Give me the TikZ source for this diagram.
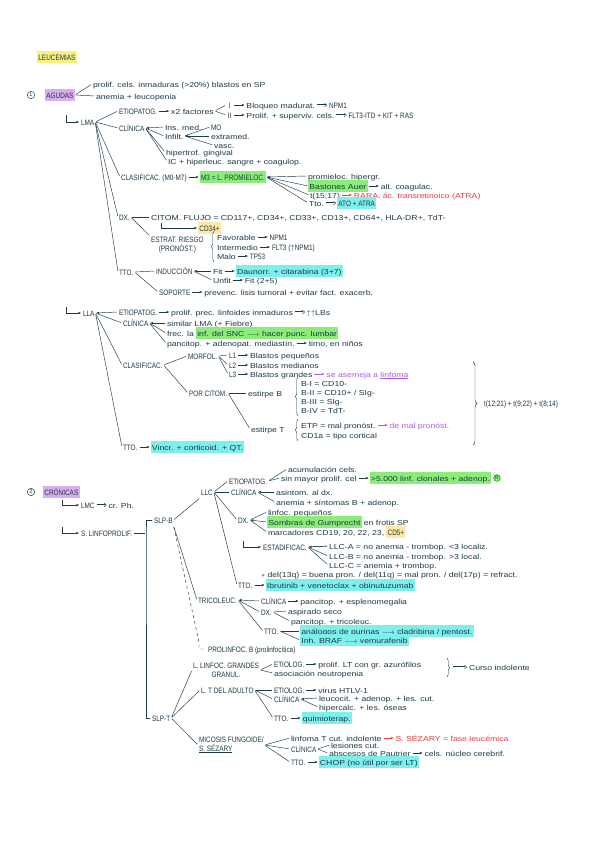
\documentclass[tikz,border=0pt]{standalone}
\usepackage{fontspec}
\setmainfont{Liberation Sans}
\newfontfamily\handfont[FakeStretch=1.2]{Liberation Sans}
\newfontfamily\capfont[FakeStretch=0.82]{Liberation Sans}
\usepackage{tikz}
\usetikzlibrary{arrows.meta, positioning, decorations.pathreplacing}
\definecolor{ink}{RGB}{28,58,72}
\definecolor{hlyellow}{RGB}{250,240,125}
\definecolor{hlpurple}{RGB}{218,172,240}
\definecolor{hlgreen}{RGB}{140,236,120}
\definecolor{hlcyan}{RGB}{125,240,236}
\definecolor{hlorange}{RGB}{255,232,165}
\definecolor{redink}{RGB}{238,58,58}
\definecolor{lilac}{RGB}{170,90,240}
\tikzstyle{basefont}=[font=\handfont\fontsize{7.2}{8.2}\selectfont]
\tikzstyle{capsfont}=[font=\capfont\fontsize{7.8}{8.6}\selectfont]
\tikzstyle{hand}=[basefont, text=ink, anchor=west, inner sep=0.8pt]
\tikzstyle{txt}=[hand, text height=1.5ex, text depth=.35ex]
\tikzstyle{hdr}=[txt, capsfont]
\tikzstyle{hlY}=[txt, fill=hlyellow, inner sep=1.2pt]
\tikzstyle{hlP}=[txt, fill=hlpurple, inner sep=1.2pt]
\tikzstyle{hlG}=[txt, fill=hlgreen, inner sep=1.2pt]
\tikzstyle{hlC}=[txt, fill=hlcyan, inner sep=1.2pt]
\tikzstyle{hlO}=[txt, fill=hlorange, inner sep=1.2pt]
\tikzstyle{redtxt}=[txt, text=redink]
\tikzstyle{liltxt}=[txt, text=lilac]
\tikzstyle{circnum}=[circle, draw=ink, text=ink, line width=0.45pt, inner sep=0.9pt, font=\fontsize{5.5}{5.5}\selectfont]
\tikzstyle{stamp}=[circle, fill=hlgreen, draw=green!45!black, text=green!35!black, inner sep=0.6pt, font=\fontsize{5}{5}\selectfont]
\tikzstyle{link}=[draw=ink, line width=0.45pt, shorten <=1pt, shorten >=1pt]
\tikzstyle{arrow}=[link, -{Stealth[length=3pt, width=2.4pt]}]
\tikzstyle{darrow}=[link, double, double distance=0.8pt, -{Implies}]
\tikzstyle{redarrow}=[arrow, draw=redink]
\tikzstyle{lilarrow}=[arrow, draw=lilac]
\tikzstyle{curly}=[draw=ink, line width=0.45pt, decorate, decoration={brace, amplitude=2.5pt}]
% next item on the same line, joined by an arrow
\newcommand*{\nxt}[5][arrow]{%
	\node[#4, right=12pt of #2] (#3) {#5};
	\draw[#1] (#2) -- (#3);
}
\begin{document}
\begin{tikzpicture}[x=0.035cm, y=-0.035cm]
	\useasboundingbox[fill=white] (0,0) rectangle (600,848);

	\node[hlY, capsfont] (leuc) at (37,57) {LEUCEMIAS};

	% 1. Agudas
	\node[circnum] (n1) at (31,95) {1};
	\node[hlP, capsfont] (agudas) at (45,95) {AGUDAS};
	\node[txt] (ag-prolif) at (92,84) {prolif. cels. inmaduras (>20\%) blastos en SP};
	\node[txt] (ag-anemia) at (95,96) {anemia + leucopenia};
	\foreach \c in {ag-prolif, ag-anemia}
		\draw[link] (agudas.east) -- (\c.west);

	% LMA
	\coordinate (lma-hook) at (66,114);
	\node[hdr] (lma) at (80,122) {LMA};
	\draw[arrow] (lma-hook) |- (lma);
	\node[hdr] (lma-etio) at (118,111) {ETIOPATOG.};
	\node[hdr] (lma-clin) at (118,128) {CLÍNICA};
	\node[hdr] (lma-clasif) at (120,177) {CLASIFICAC. (M0-M7)};
	\node[hdr] (lma-dx) at (118,217) {DX.};
	\node[hdr] (lma-tto) at (118,272) {TTO.};
	\foreach \c in {lma-etio, lma-clin, lma-clasif, lma-dx, lma-tto}
		\draw[link] (lma.east) -- (\c.west);

	\nxt{lma-etio}{lma-fact}{txt}{x2 factores}
	\node[hdr, minimum width=7pt] (fact1) at (226,105) {I};
	\node[hdr, minimum width=7pt] (fact2) at (226,115) {II};
	\foreach \c in {fact1, fact2}
		\draw[link] (lma-fact.east) -- (\c.west);
	\nxt{fact1}{fact1-a}{txt}{Bloqueo madurat.}
	\nxt[darrow]{fact1-a}{fact1-b}{hdr}{NPM1}
	\nxt{fact2}{fact2-a}{txt}{Prolif. + superviv. cels.}
	\nxt[darrow]{fact2-a}{fact2-b}{hdr}{FLT3-ITD + KIT + RAS}

	\node[txt] (clin-ins) at (164,127) {Ins. med.};
	\node[txt] (clin-infilt) at (164,136) {Infilt.};
	\node[txt] (clin-gingiv) at (165,152) {hipertrof. gingival};
	\node[txt] (clin-ic) at (167,161) {IC + hiperleuc. sangre + coagulop.};
	\draw[arrow] (clin-ins.west) -- (lma-clin.east);
	\foreach \c in {clin-infilt, clin-gingiv, clin-ic}
		\draw[link] (\c.west) -- (lma-clin.east);
	\node[hdr] (infilt-mo) at (210,127) {MO};
	\node[txt] (infilt-extra) at (210,136) {extramed.};
	\node[txt] (infilt-vasc) at (213,145) {vasc.};
	\draw[arrow] (infilt-extra.west) -- (clin-infilt.east);
	\foreach \c in {infilt-mo, infilt-vasc}
		\draw[link] (\c.west) -- (clin-infilt.east);

	\nxt{lma-clasif}{m3}{hlG, capsfont}{M3 = L. PROMIELOC.}
	\node[txt] (m3-hiper) at (307,176) {promieloc. hipergr.};
	\node[hlG] (m3-auer) at (308,186) {Bastones Auer};
	\node[txt] (m3-trans) at (309,195) {t(15;17)};
	\node[txt] (m3-tto) at (308,203) {Tto.};
	\draw[arrow] (m3-hiper.west) -- (m3.east);
	\foreach \c in {m3-auer, m3-trans, m3-tto}
		\draw[link] (\c.west) -- (m3.east);
	\nxt{m3-auer}{m3-coag}{txt}{alt. coagulac.}
	\nxt[redarrow]{m3-trans}{m3-atra}{redtxt}{RARA. ác. transretinoico (ATRA)}
	\nxt[darrow]{m3-tto}{m3-ato}{hlC, capsfont}{ATO + ATRA}

	\node[txt] (dx-citom) at (150,217) {CITOM. FLUJO = CD117+, CD34+, CD33+, CD13+, CD64+, HLA-DR+, TdT-};
	\coordinate (cd34-hook) at (161,222);
	\node[hlO, capsfont] (cd34) at (198,228) {CD34+};
	\draw[arrow] (cd34-hook) |- (cd34);
	\node[hand, capsfont, align=center] (dx-riesgo) at (150,245) {ESTRAT. RIESGO\\(PRONÓST.)};
	\draw[link] (lma-dx.east) -- (dx-citom.west);
	\draw[link] (lma-dx.east) -- (dx-riesgo.north west);
	\node[txt] (r-fav) at (216,237) {Favorable};
	\node[txt] (r-int) at (216,247) {Intermedio};
	\node[txt] (r-malo) at (216,256) {Malo};
	\draw[curly] ([xshift=-2pt]r-malo.south west) -- ([xshift=-2pt]r-fav.north west);
	\nxt{r-fav}{r-fav-g}{hdr}{NPM1}
	\nxt{r-int}{r-int-g}{hdr}{FLT3 ($\uparrow$NPM1)}
	\nxt{r-malo}{r-malo-g}{hdr}{TP53}

	\node[hdr] (induc) at (155,271) {INDUCCIÓN};
	\node[hdr] (soporte) at (158,292) {SOPORTE};
	\foreach \c in {induc, soporte}
		\draw[link] (lma-tto.east) -- (\c.west);
	\node[txt] (ind-fit) at (212,271) {Fit};
	\node[txt] (ind-unfit) at (212,280) {Unfit};
	\draw[arrow] (ind-fit.west) -- (induc.east);
	\draw[link] (ind-unfit.west) -- (induc.east);
	\nxt{ind-fit}{ind-fit-t}{hlC}{Daunorr. + citarabina (3+7)}
	\nxt{ind-unfit}{ind-unfit-t}{txt}{Fit (2+5)}
	\nxt{soporte}{soporte-t}{txt}{prevenc. lisis tumoral + evitar fact. exacerb.}

	% LLA
	\coordinate (lla-hook) at (66,306);
	\node[hdr] (lla) at (82,313) {LLA};
	\draw[arrow] (lla-hook) |- (lla);
	\node[hdr] (lla-etio) at (118,312) {ETIOPATOG.};
	\node[hdr] (lla-clin) at (122,323) {CLÍNICA};
	\node[hdr] (lla-clasif) at (122,365) {CLASIFICAC.};
	\node[hdr] (lla-tto) at (122,447) {TTO.};
	\draw[arrow] (lla-etio.west) -- (lla.east);
	\foreach \c in {lla-clin, lla-clasif, lla-tto}
		\draw[link] (\c.west) -- (lla.east);

	\nxt{lla-etio}{lla-prolif}{txt}{prolif. prec. linfoides inmaduros}
	\nxt[darrow]{lla-prolif}{lla-lbs}{txt}{$\uparrow\uparrow$LBs}

	\node[txt] (lla-sim) at (166,323) {similar LMA (+ Fiebre)};
	\node[txt] (lla-frec) at (166,333) {frec. la};
	\node[hlG, right=1pt of lla-frec] (lla-snc) {inf. del SNC $\longrightarrow$ hacer punc. lumbar};
	\node[txt] (lla-pancit) at (166,343) {pancitop. + adenopat. mediastín.};
	\nxt{lla-pancit}{lla-timo}{txt}{timo, en niños}
	\draw[arrow] (lla-sim.west) -- (lla-clin.east);
	\foreach \c in {lla-frec, lla-pancit}
		\draw[link] (\c.west) -- (lla-clin.east);

	\node[hdr] (morfol) at (187,356) {MORFOL.};
	\node[hdr] (porcit) at (188,393) {POR CITOM.};
	\foreach \c in {morfol, porcit}
		\draw[link] (lla-clasif.east) -- (\c.west);
	\foreach \l/\y/\t [count=\i] in {L1/355/pequeños, L2/365/medianos, L3/374/grandes}{
		\node[hdr] (l\i) at (228,\y) {\l};
		\draw[link] (l\i.west) -- (morfol.east);
		\nxt{l\i}{l\i-b}{txt}{Blastos \t}
	}
	\nxt[lilarrow]{l3-b}{l3-note}{liltxt}{se asemeja a \underline{linfoma}}

	\node[txt] (estB) at (247,393) {estirpe B};
	\node[txt] (estT) at (250,429) {estirpe T};
	\foreach \c in {estB, estT}
		\draw[link] (porcit.east) -- (\c.west);
	\foreach \t/\y [count=\i] in {{B-I = CD10-}/383, {B-II = CD10+ / SIg-}/392, {B-III = SIg-}/401, {B-IV = TdT-}/410}
		\node[txt] (b\i) at (300,\y) {\t};
	\draw[curly] ([xshift=-2pt]b4.south west) -- ([xshift=-2pt]b1.north west);
	\node[txt] (etp) at (300,425) {ETP = mal pronóst.};
	\node[txt] (cd1a) at (300,435) {CD1a = tipo cortical};
	\draw[curly] ([xshift=-2pt]cd1a.south west) -- ([xshift=-2pt]etp.north west);
	\nxt[lilarrow]{etp}{etp-note}{liltxt}{de mal pronóst.}

	\coordinate (trans-top) at (473,362);
	\coordinate (trans-bot) at (473,445);
	\draw[curly, decoration={brace, amplitude=4pt}] (trans-top) -- (trans-bot);
	\node[hdr] (trans) at (483,403) {t(12;21) + t(9;22) + t(8;14)};

	\nxt{lla-tto}{lla-vincr}{hlC}{Vincr. + corticoid. + QT.}

	% 2. Cronicas
	\node[circnum] (n2) at (31,492) {2};
	\node[hlP, capsfont] (cron) at (43,492) {CRÓNICAS};
	\coordinate (lmc-hook) at (62,499);
	\node[hdr] (lmc) at (80,505) {LMC};
	\draw[arrow] (lmc-hook) |- (lmc);
	\nxt[darrow]{lmc}{lmc-ph}{txt}{cr. Ph.}
	\coordinate (slp-hook) at (62,526);
	\node[hdr] (slp) at (80,533) {S. LINFOPROLIF.};
	\draw[arrow] (slp-hook) |- (slp);
	\node[hdr] (slpb) at (153,520) {SLP-B};
	\node[hdr] (slpt) at (151,718) {SLP-T};
	\coordinate (slp-bar) at (146,533);
	\draw[link] (slp.east) -- (slp-bar);
	\draw[link] (slpb.west) -| (slp-bar) |- (slpt.west);

	% LLC
	\node[hdr] (llc) at (200,492) {LLC};
	\draw[link] (slpb.east) -- (llc.south west);
	\node[hdr] (llc-etio) at (228,481) {ETIOPATOG.};
	\node[hdr] (llc-clin) at (230,492) {CLÍNICA};
	\node[hdr] (llc-dx) at (237,520) {DX.};
	\node[hdr] (llc-tto) at (237,585) {TTO.};
	\foreach \c in {llc-etio, llc-clin, llc-dx, llc-tto}
		\draw[link] (llc.east) -- (\c.west);

	\node[txt] (etio-acum) at (287,469) {acumulación cels.};
	\node[txt] (etio-prolif) at (280,478) {sin mayor prolif. cel};
	\foreach \c in {etio-acum, etio-prolif}
		\draw[link] (\c.west) -- (llc-etio.east);
	\nxt{etio-prolif}{etio-linf}{hlG}{>5.000 linf. clonales + adenop.}
	\node[stamp, right=2pt of etio-linf] (etio-stamp) {R};

	\node[txt] (clin-asint) at (275,492) {asintom. al dx.};
	\node[txt] (clin-anemia) at (275,502) {anemia + síntomas B + adenop.};
	\draw[arrow] (clin-asint.west) -- (llc-clin.east);
	\draw[link] (clin-anemia.west) -- (llc-clin.east);

	\node[txt] (dx-linf) at (267,512) {linfoc. pequeños};
	\node[hlG] (dx-gump) at (267,522) {Sombras de Gumprecht};
	\node[txt, right=1pt of dx-gump] (dx-frotis) {en frotis SP};
	\node[txt] (dx-marc) at (267,532) {marcadores CD19, 20, 22, 23,};
	\node[hlO, capsfont, right=1pt of dx-marc] (dx-cd5) {CD5+};
	\draw[arrow] (dx-gump.west) -- (llc-dx.east);
	\foreach \c in {dx-linf, dx-marc}
		\draw[link] (\c.west) -- (llc-dx.east);

	\coordinate (estad-hook) at (243,540);
	\node[hdr] (estad) at (262,547) {ESTADIFICAC.};
	\draw[arrow] (estad-hook) |- (estad);
	\foreach \t/\y [count=\i] in {{LLC-A = no anemia - trombop. <3 localiz.}/546, {LLC-B = no anemia - trombop. >3 local.}/556, {LLC-C = anemia + trombop.}/565}{
		\node[txt] (rai\i) at (328,\y) {\t};
		\draw[link] (rai\i.west) -- (estad.east);
	}
	\draw[arrow] (rai1.west) -- (estad.east);
	\node[txt] (citogen) at (260,574) {$\ast$ del(13q) = buena pron. / del(11q) = mal pron. / del(17p) = refract.};
	\nxt{llc-tto}{llc-ibru}{hlC}{Ibrutinib + venetoclax + obinutuzumab}

	% Tricoleucemia y prolinfocitica
	\node[hdr] (tric) at (197,600) {TRICOLEUC.};
	\node[hdr] (prolinf) at (207,649) {PROLINFOC. B (prolinfocítica)};
	\draw[link] (slpb.south east) -- (tric.west);
	\coordinate (prolinf-corner) at (199,642);
	\draw[link, dashed] (slpb.south east) -- (prolinf-corner) |- (prolinf.west);

	\node[hdr] (tr-clin) at (260,601) {CLÍNICA};
	\node[hdr] (tr-dx) at (260,612) {DX.};
	\node[hdr] (tr-tto) at (263,631) {TTO.};
	\draw[arrow] (tr-clin.west) -- (tric.east);
	\foreach \c in {tr-dx, tr-tto}
		\draw[link] (\c.west) -- (tric.east);
	\nxt{tr-clin}{tr-clin-t}{txt}{pancitop. + esplenomegalia}
	\node[txt] (tr-seco) at (287,611) {aspirado seco};
	\node[txt] (tr-pancit) at (290,621) {pancitop. + tricoleuc.};
	\foreach \c in {tr-seco, tr-pancit}
		\draw[link] (tr-dx.east) -- (\c.west);
	\node[hlC] (tr-purin) at (300,631) {análogos de purinas $\longrightarrow$ cladribina / pentost.};
	\node[hlC] (tr-braf) at (300,640) {Inh. BRAF $\longrightarrow$ vemurafenib};
	\foreach \c in {tr-purin, tr-braf}
		\draw[link] (tr-tto.east) -- (\c.west);

	% SLP-T
	\node[hand, capsfont, align=center] (lgg) at (192,670) {L. LINFOC. GRANDES\\GRANUL.};
	\node[hdr] (lgg-etio) at (273,664) {ETIOLOG.};
	\node[txt] (lgg-neutro) at (273,673) {asociación neutropenia};
	\foreach \c in {lgg-etio, lgg-neutro}
		\draw[link] (lgg.east) -- (\c.west);
	\nxt{lgg-etio}{lgg-azur}{txt}{prolif. LT con gr. azurófilos}
	\coordinate (lgg-top) at (447,658);
	\coordinate (lgg-bot) at (447,677);
	\draw[curly] (lgg-top) -- (lgg-bot);
	\coordinate (lgg-tip) at (452,667);
	\node[txt] (lgg-curso) at (468,667) {Curso indolente};
	\draw[darrow] (lgg-tip) -- (lgg-curso);

	\node[hdr] (ltad) at (200,690) {L. T DEL ADULTO};
	\node[hdr] (ltad-etio) at (273,690) {ETIOLOG.};
	\node[hdr] (ltad-clin) at (273,699) {CLÍNICA};
	\node[hdr] (ltad-tto) at (273,718) {TTO.};
	\foreach \c in {ltad-etio, ltad-clin, ltad-tto}
		\draw[link] (ltad.east) -- (\c.west);
	\nxt{ltad-etio}{ltad-htlv}{txt}{virus HTLV-1}
	\node[txt] (ltad-les) at (318,698) {leucocit. + adenop. + les. cut.};
	\node[txt] (ltad-hiperca) at (318,707) {hipercalc. + les. óseas};
	\draw[arrow] (ltad-les.west) -- (ltad-clin.east);
	\draw[link] (ltad-hiperca.west) -- (ltad-clin.east);
	\nxt{ltad-tto}{ltad-qt}{hlC}{quimioterap.}

	\node[hand, capsfont, align=left] (mf) at (198,745) {MICOSIS FUNGOIDE/\\\underline{S. SÉZARY}};
	\node[txt] (mf-linf) at (290,738) {linfoma T cut. indolente};
	\nxt[redarrow]{mf-linf}{mf-sez}{redtxt}{S. SÉZARY = fase leucémica}
	\node[hdr] (mf-clin) at (290,749) {CLÍNICA};
	\node[txt] (mf-les) at (330,745) {lesiones cut.};
	\node[txt] (mf-paut) at (328,753) {abscesos de Pautrier};
	\foreach \c in {mf-les, mf-paut}
		\draw[link] (mf-clin.east) -- (\c.west);
	\nxt{mf-paut}{mf-cerebr}{txt}{cels. núcleo cerebrif.}
	\node[hdr] (mf-tto) at (290,762) {TTO.};
	\nxt{mf-tto}{mf-chop}{hlC}{CHOP (no útil por ser LT)}
	\foreach \c in {mf-linf, mf-clin, mf-tto}
		\draw[link] (mf.east) -- (\c.west);

	\foreach \c in {lgg, ltad, mf}
		\draw[link] (slpt.east) -- (\c.west);
\end{tikzpicture}
\end{document}
